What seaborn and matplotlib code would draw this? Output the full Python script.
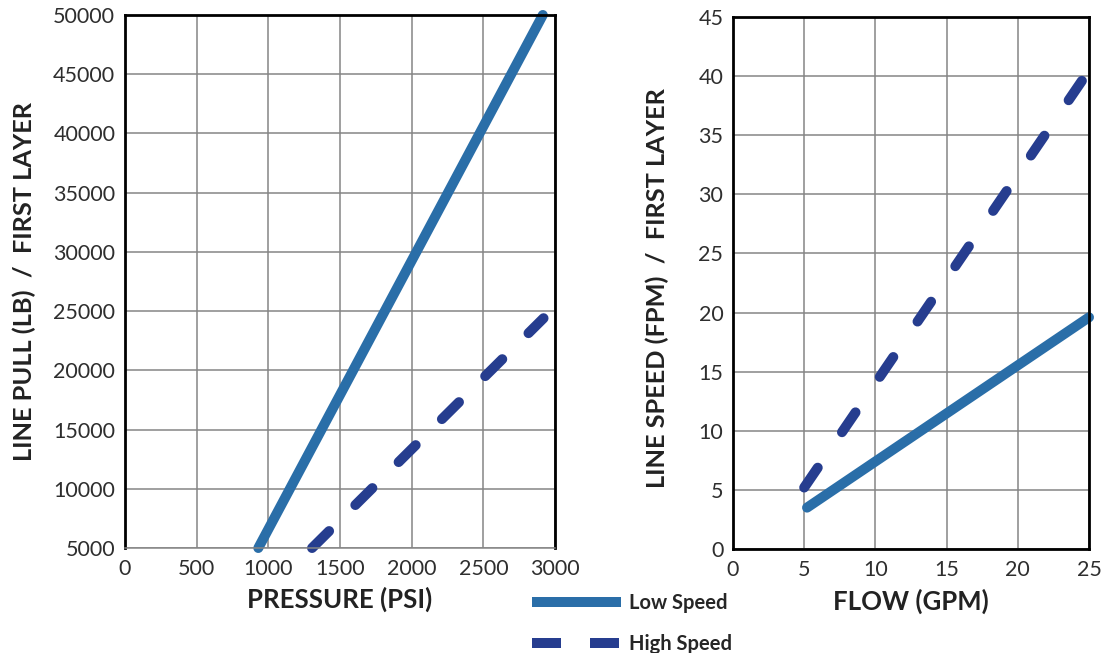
import matplotlib
matplotlib.use("Agg")
import matplotlib.pyplot as plt
from matplotlib.lines import Line2D
import seaborn as sns
import pandas as pd

# ---- data ----
series_names = ["Low Speed", "High Speed"]
pressure_low = [930, 2915]
pull_low = [5000, 50000]
pressure_high = [1305, 2920]
pull_high = [5000, 24400]

flow_low = [5.2, 25.0]
speed_low = [3.5, 19.6]
flow_high = [5.0, 24.5]
speed_high = [5.2, 39.6]

pull_ticks = list(range(5000, 50001, 5000))
pressure_ticks = list(range(0, 3001, 500))
flow_ticks = list(range(0, 26, 5))
speed_ticks = list(range(0, 46, 5))

left_df = pd.DataFrame({
    "x": pressure_low + pressure_high,
    "y": pull_low + pull_high,
    "Speed": [series_names[0]] * len(pressure_low) + [series_names[1]] * len(pressure_high),
})
right_df = pd.DataFrame({
    "x": flow_low + flow_high,
    "y": speed_low + speed_high,
    "Speed": [series_names[0]] * len(flow_low) + [series_names[1]] * len(flow_high),
})

# ---- style ----
sns.set_style("white")
plt.rcParams["font.family"] = ["Lato", "DejaVu Sans"]

LOW_C = "#2a6ea8"
HIGH_C = "#263d8f"
GRID_C = "#858585"
palette = {"Low Speed": LOW_C, "High Speed": HIGH_C}
dashes_left = {"Low Speed": "", "High Speed": (2.4, 3.7)}
dashes_right = {"Low Speed": "", "High Speed": (2.4, 4.3)}

fig = plt.figure(figsize=(11.02, 6.53), dpi=100)
W, H = 1102, 653
axL = fig.add_axes([125 / W, 1 - 548 / H, (555 - 125) / W, (548 - 15) / H])
axR = fig.add_axes([733 / W, 1 - 549 / H, (1089 - 733) / W, (549 - 17) / H])

line_kw = dict(linewidth=7.2, solid_capstyle="round", dash_capstyle="round", clip_on=False)

sns.lineplot(data=left_df, x="x", y="y", hue="Speed", style="Speed", palette=palette,
             dashes=dashes_left, ax=axL, legend=False, **line_kw)
sns.lineplot(data=right_df, x="x", y="y", hue="Speed", style="Speed", palette=palette,
             dashes=dashes_right, ax=axR, legend=False, **line_kw)

for ax in (axL, axR):
    for ln in ax.get_lines():
        ln.set_solid_capstyle("round")
        ln.set_dash_capstyle("round")
        ln.set_clip_on(False)
        ln.set_zorder(5)

tick_font = dict(fontsize=15.5, color="#2e2e2e")
xlabel_font = dict(fontsize=18.5, fontweight="bold", color="#222222")
ylabel_font = dict(fontsize=18.3, fontweight="bold", color="#222222")

# Left axes
axL.set_xlim(0, 3000)
axL.set_ylim(5000, 50000)
axL.set_xticks(pressure_ticks)
axL.set_yticks(pull_ticks)
axL.set_xticklabels([str(t) for t in pressure_ticks], **tick_font)
axL.set_yticklabels([str(t) for t in pull_ticks], **tick_font)
axL.set_xlabel("PRESSURE (PSI)", **xlabel_font)
axL.set_ylabel("LINE PULL (LB)  /  FIRST LAYER", **ylabel_font)
axL.xaxis.set_label_coords(0.5, -0.073)
axL.yaxis.set_label_coords(-0.207, 0.5)

# Right axes
axR.set_xlim(0, 25)
axR.set_ylim(0, 45)
axR.set_xticks(flow_ticks)
axR.set_yticks(speed_ticks)
axR.set_xticklabels([str(t) for t in flow_ticks], **tick_font)
axR.set_yticklabels([str(t) for t in speed_ticks], **tick_font)
axR.set_xlabel("FLOW (GPM)", **xlabel_font)
axR.set_ylabel("LINE SPEED (FPM)  /  FIRST LAYER", **ylabel_font)
axR.xaxis.set_label_coords(0.5, -0.075)
axR.yaxis.set_label_coords(-0.181, 0.49)

for ax in (axL, axR):
    ax.grid(True, color=GRID_C, linewidth=1.1)
    ax.set_axisbelow(True)
    ax.tick_params(axis="both", length=0, pad=7)
    ax.tick_params(axis="x", pad=8)
    for s in ax.spines.values():
        s.set_visible(True)
        s.set_color("black")
        s.set_linewidth(2.0)
        s.set_zorder(6)

axL.spines["bottom"].set_color(GRID_C)
axL.spines["bottom"].set_linewidth(1.1)

# Legend
handles = [
    Line2D([], [], color=LOW_C, linewidth=7.2, solid_capstyle="butt"),
    Line2D([], [], color=HIGH_C, linewidth=7.2, dash_capstyle="butt", linestyle=(0, (2.9, 2.9))),
]
fig.legend(handles, series_names, loc="upper left", bbox_to_anchor=(532 / W, 1 - 593 / H),
           frameon=False, borderpad=0, borderaxespad=0, handlelength=4.4, handletextpad=0.4,
           labelspacing=1.05, prop=dict(family=["Lato", "DejaVu Sans"], weight="bold", size=14.5))

fig.savefig("out.png", dpi=100)
